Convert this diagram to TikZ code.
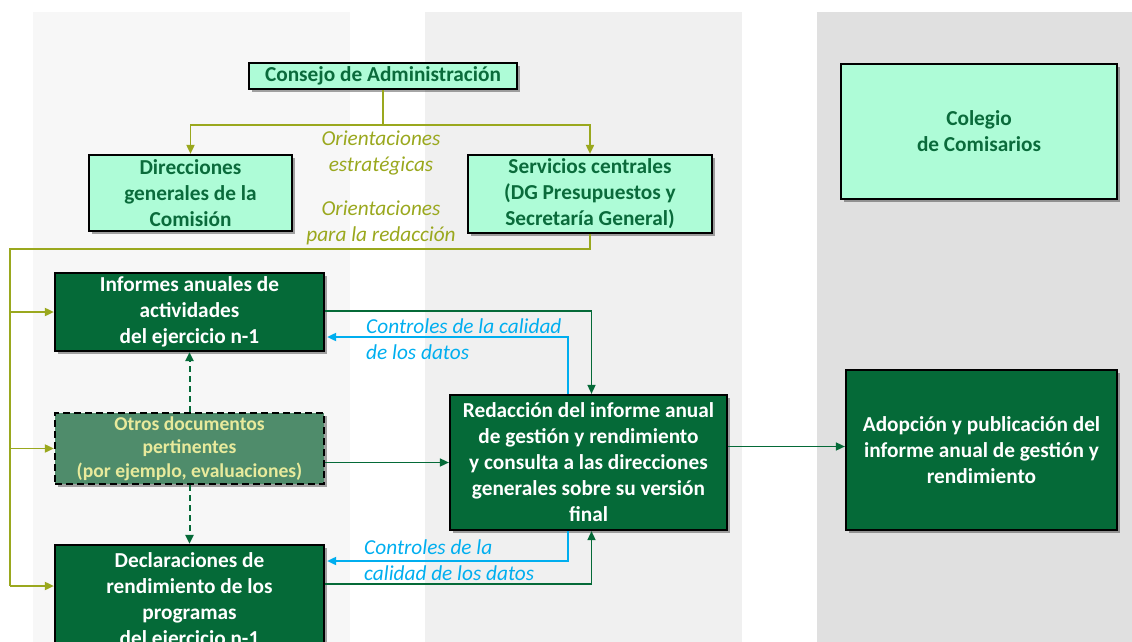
\documentclass[tikz,border=0pt]{standalone}
\usepackage{fontspec}
\setmainfont{Carlito}
\usetikzlibrary{arrows.meta,shadows,calc}
\definecolor{mint}{HTML}{AEFCD7}
\definecolor{mtext}{HTML}{0A6B3B}
\definecolor{dgreen}{HTML}{056A38}
\definecolor{olivec}{HTML}{9AA81E}
\definecolor{bluec}{HTML}{00AEEF}
\definecolor{otrosf}{HTML}{4F8C6B}
\definecolor{otrost}{HTML}{E8EA9C}
\definecolor{col1}{HTML}{F7F7F7}
\definecolor{col2}{HTML}{F0F0F0}
\definecolor{col3}{HTML}{E0E0E0}
\tikzset{
  box/.style={draw=black, line width=2.2pt, align=center, inner sep=0pt,
    font=\fontsize{21.3}{26}\selectfont\bfseries,
    drop shadow={shadow xshift=3pt, shadow yshift=-3pt, opacity=0.35, fill=black}},
  light/.style={box, fill=mint, text=mtext},
  dark/.style={box, fill=dgreen, text=white},
  olv/.style={draw=olivec, line width=1.8pt},
  grn/.style={draw=dgreen, line width=1.6pt},
  blu/.style={draw=bluec, line width=1.8pt},
  tip/.style={-{Triangle[length=9pt,width=8pt]}},
  lab/.style={font=\fontsize{21.3}{26}\selectfont\itshape, align=left, inner sep=0pt}
}
\begin{document}
\begin{tikzpicture}[x=1pt,y=-1pt]
\useasboundingbox (0,0) rectangle (1132,642);
\clip (0,0) rectangle (1132,642);
\fill[col1] (33,12) rectangle (350,642);
\fill[col2] (425,12) rectangle (742,642);
\fill[col3] (817,12) rectangle (1132,642);

\node[light, minimum width=268, minimum height=26] (cons) at (383,76) {Consejo de Administración};
\node[light, minimum width=203, minimum height=76] (dir) at (190.5,193) {Direcciones\\generales de la\\Comisión};
\node[light, minimum width=244, minimum height=78] (serv) at (590,194) {Servicios centrales\\(DG Presupuestos y\\Secretaría General)};
\node[light, minimum width=276, minimum height=135] (col) at (979,131.5) {Colegio\\de Comisarios};
\node[dark, minimum width=269, minimum height=78] (inf) at (189.5,312) {Informes anuales de\\actividades\\del ejercicio n-1};
\node[box, fill=otrosf, text=otrost, dash pattern=on 7pt off 4pt, minimum width=269, minimum height=71,
  font=\fontsize{19.6}{23.5}\selectfont\bfseries] (otros) at (189.5,448.5) {Otros documentos\\pertinentes\\(por ejemplo, evaluaciones)};
\node[dark, minimum width=269, minimum height=112] (decl) at (189.5,601) {Declaraciones de\\rendimiento de los\\programas\\del ejercicio n-1};
\node[dark, minimum width=277, minimum height=135] (red) at (588.5,462.5) {Redacción del informe anual\\de gestión y rendimiento\\y consulta a las direcciones\\generales sobre su versión\\final};
\node[dark, minimum width=271, minimum height=160] (adop) at (981.5,450) {Adopción y publicación del\\informe anual de gestión y\\rendimiento};

% olive connectors
\coordinate (br) at (383,125);
\draw[olv] (cons.south) -- (br);
\draw[olv,tip] (br) -| (dir.north);
\draw[olv,tip] (br) -| (serv.north);
\node[lab, text=olivec, align=center] (l1) at (381,153) {Orientaciones\\estratégicas};
\node[lab, text=olivec, align=center] (l2) at (381,223) {Orientaciones\\para la redacción};
\coordinate (lt) at (10,249);
\coordinate (lb) at (10,586);
\draw[olv] (serv.south) |- (lt) -- (lb);
\draw[olv,tip] (lb) -- (lb -| decl.west);
\draw[olv,tip] (lt |- inf.west) -- (inf.west);
\draw[olv,tip] (lt |- otros.west) -- (otros.west);

% green connectors
\draw[grn,tip] ([yshift=1pt]inf.east) -| ([xshift=3pt]red.north);
\draw[grn,tip] (red.west -| otros.east) -- (red.west);
\draw[grn,tip] ([yshift=17pt]decl.east) -| ([xshift=3pt]red.south);
\draw[grn,tip] ([yshift=16pt]red.east) -- ([yshift=16pt]red.east -| adop.west);
\draw[grn,tip,line width=2pt,dash pattern=on 6pt off 4pt] (otros.north) -- (inf.south);
\draw[grn,tip,line width=2pt,dash pattern=on 6pt off 4pt] (otros.south) -- (decl.north);

% blue connectors
\draw[blu,tip] ([xshift=-20.5pt]red.north) |- ([yshift=-25pt,xshift=2pt]inf.east);
\draw[blu,tip] ([xshift=-20.5pt]red.south) |- ([yshift=40pt,xshift=2pt]decl.east);
\node[lab, text=bluec, anchor=west] (l3) at (366,339) {Controles de la calidad\\de los datos};
\node[lab, text=bluec, anchor=west] (l4) at (364,560.5) {Controles de la\\calidad de los datos};
\end{tikzpicture}
\end{document}
